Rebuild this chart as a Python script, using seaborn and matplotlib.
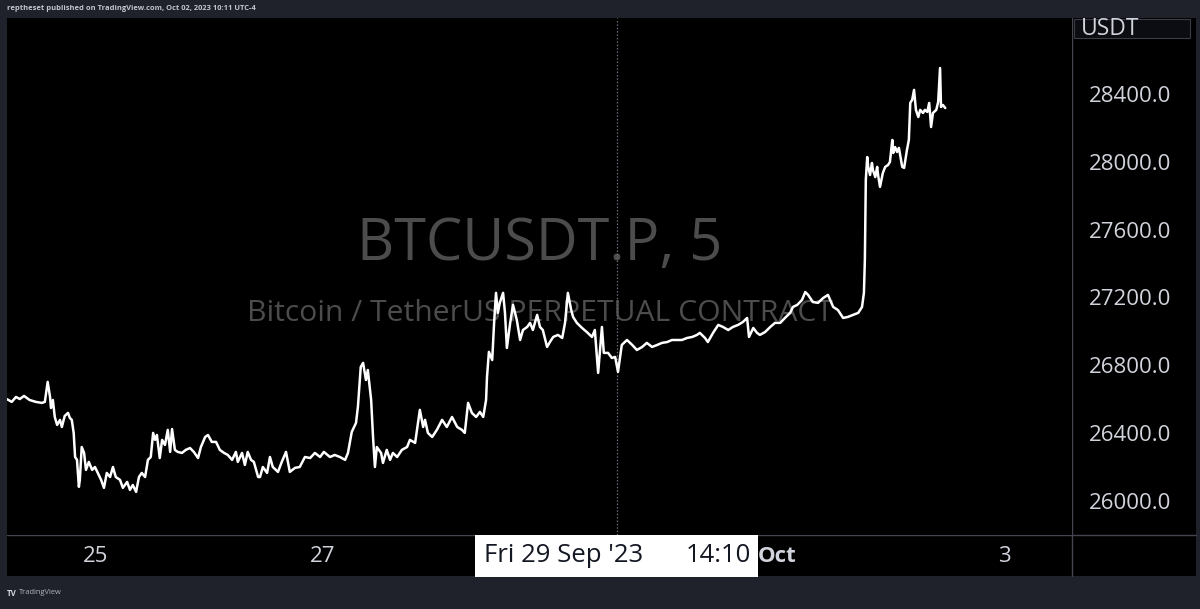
import matplotlib
matplotlib.use("Agg")
import matplotlib.pyplot as plt
import matplotlib.transforms as mtransforms
from matplotlib.patches import Rectangle
from matplotlib.lines import Line2D
import seaborn as sns
import pandas as pd

# ---- data: hours since 25 Sep 2023 00:00, BTCUSDT.P price (5m) ----
hours = [
    -18.8, -17.8, -16.9, -16.1, -15.2, -14.0, -12.7, -11.4, -10.8, -10.2, -9.7, -9.5, -9.1, -8.7,
    -8.2, -7.6, -7.2, -6.6, -5.9, -5.5, -5.1, -4.7, -4.4, -4.0, -3.6, -3.4, -3.0, -2.5, -2.1, -1.5,
    -0.8, -0.2, 0.4, 1.1, 1.7, 2.3, 3.0, 3.6, 4.2, 5.1, 5.7, 6.6, 7.2, 7.8, 8.5, 9.1, 9.7, 10.4,
    11.0, 11.6, 12.1, 12.5, 12.9, 13.5, 14.0, 14.6, 15.2, 15.7, 16.1, 16.7, 17.3, 18.2, 19.0, 19.9,
    20.7, 21.6, 22.2, 23.1, 23.7, 24.5, 25.4, 26.2, 27.1, 27.9, 28.8, 29.6, 30.0, 30.9, 31.5, 32.1,
    32.8, 33.4, 34.3, 34.7, 35.3, 36.2, 36.8, 37.4, 38.5, 39.3, 40.2, 41.0, 42.1, 43.1, 44.2, 45.3,
    46.3, 47.4, 48.2, 49.5, 50.5, 51.6, 52.7, 53.3, 54.1, 55.0, 55.4, 56.0, 56.5, 57.1, 57.5, 58.2,
    58.6, 59.0, 59.4, 60.3, 60.7, 61.5, 62.2, 62.8, 63.7, 64.7, 65.8, 66.4, 67.5, 68.1, 68.5, 69.2,
    69.6, 70.2, 71.1, 72.1, 73.2, 74.2, 75.3, 76.4, 77.4, 78.0, 78.7, 79.5, 80.4, 81.2, 81.9, 82.5,
    82.7, 83.1, 83.8, 84.2, 84.6, 85.0, 85.4, 86.1, 86.5, 86.9, 87.6, 88.2, 89.0, 89.7, 90.3, 91.2,
    91.8, 92.4, 93.3, 93.9, 94.5, 95.4, 96.0, 96.7, 97.7, 98.6, 99.2, 99.8, 100.5, 100.9, 101.7, 102.8,
    103.8, 104.9, 105.5, 106.2, 107.0, 107.4, 108.3, 109.1, 109.8, 110.4, 111.2, 112.3, 113.4, 114.4,
    115.5, 116.5, 117.6, 118.7, 119.7, 120.8, 121.8, 122.9, 123.9, 125.0, 126.1, 127.1, 127.7, 128.8,
    129.4, 130.5, 131.6, 132.6, 133.7, 134.7, 135.8, 136.8, 137.7, 138.1, 139.0, 139.8, 140.4, 141.5,
    142.6, 143.6, 144.7, 145.7, 146.8, 147.4, 148.3, 149.3, 150.0, 150.6, 151.6, 152.7, 153.8, 154.8,
    155.9, 156.9, 158.0, 159.0, 160.1, 161.2, 162.0, 162.4, 162.6, 162.8, 163.1, 163.3, 163.7, 164.1,
    164.3, 164.8, 165.2, 165.4, 165.8, 166.4, 166.9, 167.5, 167.9, 168.4, 168.6, 169.0, 169.4, 169.8,
    170.5, 170.9, 171.5, 171.9, 172.2, 172.6, 173.0, 173.4, 173.9, 174.3, 174.9, 175.3, 175.8, 176.2,
    176.6, 177.0, 177.7, 178.1, 178.5, 178.7, 179.1, 179.6,
]
prices = [
    26600, 26584, 26613, 26601, 26619, 26595, 26584, 26578, 26584, 26702, 26613, 26548, 26595, 26495,
    26448, 26478, 26436, 26501, 26519, 26489, 26478, 26401, 26259, 26242, 26083, 26124, 26318, 26283, 26183, 26230,
    26183, 26200, 26165, 26124, 26077, 26165, 26141, 26200, 26141, 26124, 26077, 26112, 26065, 26094, 26053, 26141, 26165, 26141,
    26242, 26259, 26401, 26360, 26389, 26253, 26360, 26330, 26419, 26289, 26424, 26301, 26289, 26283, 26301, 26312,
    26289, 26253, 26318, 26377, 26389, 26348, 26348, 26301, 26283, 26271, 26242, 26289, 26230, 26283, 26212, 26289,
    26242, 26230, 26141, 26141, 26200, 26165, 26259, 26200, 26171, 26230, 26289, 26171, 26195, 26200, 26259, 26253,
    26283, 26259, 26289, 26259, 26271, 26259, 26242, 26283, 26407, 26460, 26554, 26790, 26814, 26713, 26772, 26595,
    26377, 26200, 26318, 26283, 26224, 26301, 26242, 26283, 26259, 26301, 26318, 26360, 26342, 26460, 26537, 26436,
    26478, 26401, 26377, 26419, 26478, 26436, 26495, 26436, 26419, 26401, 26578, 26519, 26495, 26525, 26495, 26595,
    26731, 26879, 26831, 27050, 27227, 27109, 27168, 27227, 27109, 26902, 27050, 27156, 27067, 26949, 27008, 27026,
    27050, 27008, 27097, 27026, 27008, 26908, 26937, 26967, 26979, 26961, 27050, 27227, 27126, 27085, 27050, 27020,
    26996, 26967, 27008, 26755, 27026, 26873, 26873, 26843, 26849, 26761, 26920, 26949, 26920, 26890,
    26908, 26932, 26908, 26920, 26932, 26937, 26949, 26949, 26949, 26961, 26967, 26979, 26991, 26961,
    26937, 26991, 27038, 27026, 27008, 27026, 27038, 27055, 27079, 26967, 27020, 26991, 26979, 26996,
    27026, 27050, 27050, 27079, 27109, 27144, 27156, 27185, 27232, 27215, 27173, 27168, 27197, 27215,
    27144, 27126, 27079, 27085, 27097, 27109, 27144, 27227, 27421, 27893, 28028, 27970, 27922, 27993,
    27952, 27910, 27970, 27922, 27852, 27934, 27970, 27981, 27999, 28129, 28052, 28087, 28058, 28082,
    27970, 27964, 28070, 28129, 28347, 28365, 28424, 28306, 28264, 28306, 28288, 28306, 28294, 28347,
    28205, 28288, 28306, 28353, 28553, 28323, 28335, 28317,
]

# axis tick values / labels
price_ticks = [26000, 26400, 26800, 27200, 27600, 28000, 28400]
time_ticks = [0, 48, 144, 192]
time_labels = ["25", "27", "Oct", "3"]
cross_hour = 110.17
cross_date = "Fri 29 Sep '23"
cross_time = "14:10"
symbol_title = "BTCUSDT.P, 5"
symbol_desc = "Bitcoin / TetherUS PERPETUAL CONTRACT"
header_text = "reptheset published on TradingView.com, Oct 02, 2023 10:11 UTC-4"
currency = "USDT"

df = pd.DataFrame({"hour": hours, "price": prices})

sns.set_theme(style="dark")
plt.rcParams["font.family"] = ["Open Sans", "DejaVu Sans"]

W, H = 1200, 609
fig = plt.figure(figsize=(W / 100, H / 100), dpi=100)
outer_bg = "#1f222b"
fig.patch.set_facecolor(outer_bg)

# black panel
fig.patches.append(Rectangle((7 / W, 1 - 576 / H), (1196 - 7) / W, (576 - 18) / H,
                             transform=fig.transFigure, facecolor="black", edgecolor="none", zorder=-5))

ax = fig.add_axes([7 / W, 1 - 535 / H, (1072 - 7) / W, (535 - 18) / H])
ax.set_zorder(1)
ax.set_facecolor("black")

sns.lineplot(data=df, x="hour", y="price", ax=ax, color="white", lw=1.8, zorder=3)

ax.set_xlim(-18.8, 206.4)
ax.set_ylim(25799, 28848)
ax.set_xlabel("")
ax.set_ylabel("")
ax.grid(False)
for s in ax.spines.values():
    s.set_visible(False)

# y axis on the right
ax.yaxis.tick_right()
ax.set_yticks(price_ticks)
ax.set_yticklabels([f"{v:.1f}" for v in price_ticks])
ax.tick_params(axis="y", length=0, pad=12, labelsize=16, labelcolor="#d1d4dc")

ax.set_xticks(time_ticks)
ax.set_xticklabels(time_labels)
ax.tick_params(axis="x", length=0, pad=8, labelsize=16, labelcolor="#d1d4dc")
ax.get_xticklabels()[2].set_fontweight("bold")

# watermark
ax.text(0.5, 0.561, symbol_title, transform=ax.transAxes, ha="center", va="center",
        fontsize=41.5, color="#4c4c4c", zorder=1)
ax.text(0.5, 0.429, symbol_desc, transform=ax.transAxes, ha="center", va="center",
        fontsize=21.7, color="#4c4c4c", zorder=1)

# crosshair
ax.axvline(cross_hour, color="#6a6d78", lw=0.9, ls=(0, (1.2, 1.5)), zorder=2)
blend = mtransforms.blended_transform_factory(ax.transData, ax.transAxes)
hpp = 225.2 / 1065  # hours per pixel
box_w = 283 * hpp
box_l = cross_hour - box_w / 2
ax.add_patch(Rectangle((box_l, -42 / 517), box_w, 42 / 517, transform=blend,
                       facecolor="white", edgecolor="none", clip_on=False, zorder=5))
ax.text(box_l + 9 * hpp, -21 / 517, cross_date, transform=blend, ha="left", va="center",
        fontsize=18.5, color="#131722", zorder=6, clip_on=False)
ax.text(box_l + box_w - 7 * hpp, -21 / 517, cross_time, transform=blend, ha="right", va="center",
        fontsize=18.5, color="#131722", zorder=6, clip_on=False)

# divider lines
div = "#434651"
fig.add_artist(Line2D([7 / W, 1196 / W], [1 - 535 / H, 1 - 535 / H], color=div, lw=1, zorder=0.5))
fig.add_artist(Line2D([1072 / W, 1072 / W], [1 - 576 / H, 1 - 18 / H], color=div, lw=1, zorder=0.5))

# currency label box
fig.patches.append(Rectangle((1074 / W, 1 - 38 / H), (1190 - 1074) / W, 19 / H,
                             transform=fig.transFigure, facecolor="#0b0d12", edgecolor="#3a3d46",
                             lw=0.8, zorder=4))
fig.text(1081 / W, 1 - 29 / H, currency, ha="left", va="center", fontsize=16.5, color="#d1d4dc", zorder=5)

# header / footer
fig.text(7 / W, 1 - 9 / H, header_text, ha="left", va="center", fontsize=5.4,
         color="#c3c6ce", fontweight="bold")
fig.text(7 / W, 1 - 593 / H, "TV", ha="left", va="center", fontsize=5.8,
         color="#d1d4dc", fontweight="bold")
fig.text(19 / W, 1 - 593 / H, "TradingView", ha="left", va="center", fontsize=5.4,
         color="#b2b5be")

fig.savefig("out.png", dpi=100, facecolor=fig.get_facecolor())
